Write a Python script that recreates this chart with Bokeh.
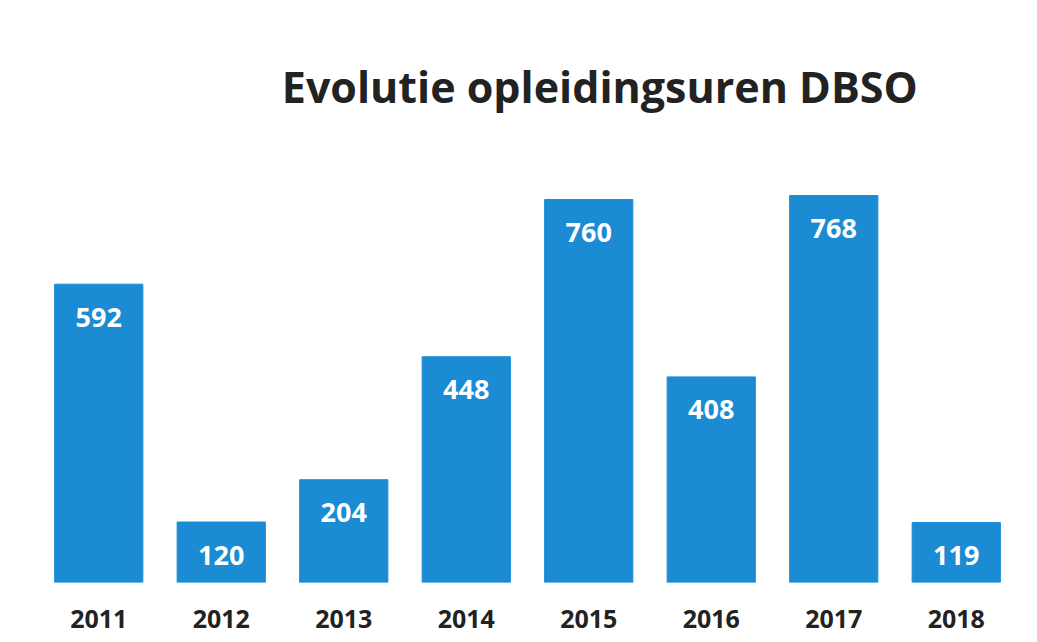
from bokeh.plotting import figure
from bokeh.models import ColumnDataSource, LabelSet, Label
from bokeh.core.properties import value
from bokeh.embed import file_html
from bokeh.resources import INLINE

years = ["2011", "2012", "2013", "2014", "2015", "2016", "2017", "2018"]
hours = [592, 120, 204, 448, 760, 408, 768, 119]
labels = [str(v) for v in hours]
title_text = "Evolutie opleidingsuren DBSO"

src = ColumnDataSource(dict(year=years, hours=hours, label=labels))

p = figure(width=1021, height=634, x_range=years, y_range=(0, 1155),
           output_backend="svg", toolbar_location=None,
           min_border_left=37, min_border_right=4, min_border_top=0, min_border_bottom=52)
p.vbar(x="year", top="hours", width=0.72, source=src, color="#1b8bd3")

p.add_layout(LabelSet(x="year", y="hours", text="label", source=src, y_offset=-33,
                      text_align="center", text_baseline="middle", text_color="white",
                      text_font=value("Open Sans"), text_font_style="bold",
                      text_font_size=value("27px")))

p.add_layout(Label(x=4.59, y=985, text=title_text, text_align="center", text_baseline="middle",
                   text_font="Open Sans", text_font_style="bold", text_font_size="43px",
                   text_color="#222222"))

p.yaxis.visible = False
p.xgrid.visible = False
p.ygrid.visible = False
p.outline_line_color = None
p.xaxis.axis_line_color = None
p.xaxis.major_tick_line_color = None
p.xaxis.minor_tick_line_color = None
p.xaxis.major_label_standoff = 21
p.xaxis.major_label_text_font = "Open Sans"
p.xaxis.major_label_text_font_style = "bold"
p.xaxis.major_label_text_font_size = "25px"
p.xaxis.major_label_text_color = "#222222"
p.x_range.range_padding = 0

open("out.html", "w").write(file_html(p, INLINE))
